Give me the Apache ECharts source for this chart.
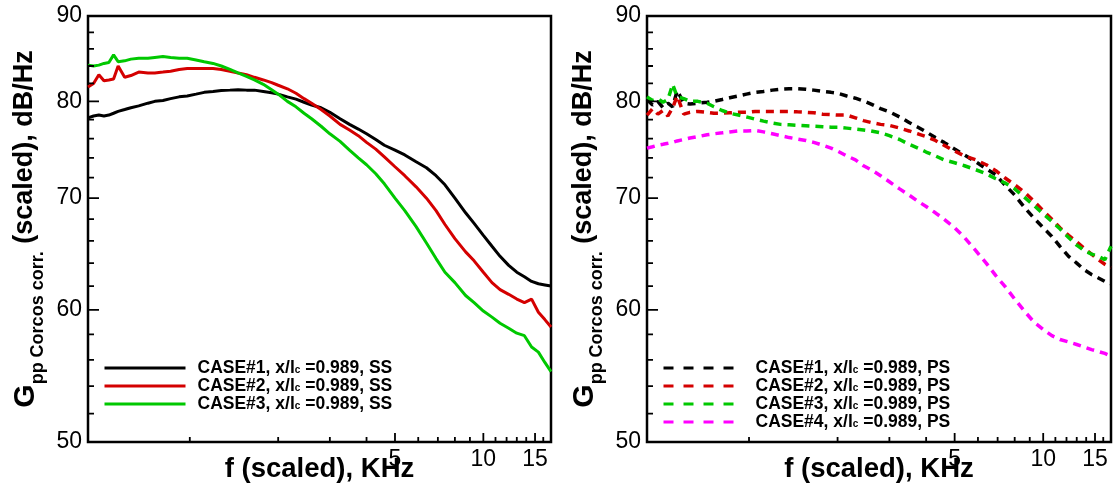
<!DOCTYPE html>
<html>
<head>
<meta charset="utf-8">
<script src="https://cdn.jsdelivr.net/npm/echarts@6/dist/echarts.min.js"></script>
<style>
  html, body { margin: 0; padding: 0; background: #fff; }
  #chart { width: 1113px; height: 497px; }
</style>
</head>
<body>
<div id="chart"></div>
<script>
// frequency grid (KHz, scaled) shared by all curves
const freq = [
  0.45, 0.47, 0.49, 0.51, 0.53, 0.55, 0.57, 0.6, 0.63, 0.67,
  0.72, 0.76, 0.81, 0.86, 0.92, 0.98, 1.05, 1.12, 1.2, 1.28,
  1.37, 1.46, 1.56, 1.66, 1.78, 1.9, 2.0, 2.15, 2.3, 2.45,
  2.6, 2.8, 3.0, 3.25, 3.5, 3.75, 4.0, 4.3, 4.6, 5.0,
  5.4, 5.9, 6.4, 6.9, 7.4, 8.0, 8.7, 9.3, 10, 10.7,
  11.4, 12.2, 13, 13.8, 14.6, 15.4, 16.2, 17,
];

// suction side (left panel)
const ssCase1 = [
  78.2, 78.4, 78.5, 78.4, 78.5, 78.7, 78.9, 79.1, 79.3, 79.5,
  79.8, 80.0, 80.1, 80.3, 80.5, 80.6, 80.8, 81.0, 81.1, 81.2,
  81.25, 81.3, 81.25, 81.25, 81.1, 80.95, 80.8, 80.5, 80.25, 79.9,
  79.6, 79.3, 78.8, 78.1, 77.5, 77.0, 76.5, 75.9, 75.3, 74.8,
  74.3, 73.6, 73.0, 72.2, 71.3, 70.0, 68.6, 67.6, 66.5, 65.5,
  64.6, 63.8, 63.2, 62.8, 62.4, 62.2, 62.1, 62.0,
];
const ssCase2 = [
  81.6, 82.0, 83.0, 82.3, 82.4, 82.5, 84.0, 82.7, 82.9, 83.3,
  83.2, 83.2, 83.3, 83.4, 83.6, 83.7, 83.7, 83.7, 83.7, 83.6,
  83.4, 83.2, 83.0, 82.7, 82.4, 82.1, 81.8, 81.4, 80.9, 80.3,
  79.8, 79.1, 78.4, 77.5, 76.9, 76.3, 75.6, 74.9, 74.1, 73.1,
  72.2, 71.1, 70.0, 68.8, 67.5, 66.2, 65.0, 64.2, 63.2, 62.3,
  61.7, 61.3, 60.9, 60.6, 60.9, 59.8, 59.2, 58.6,
];
const ssCase3 = [
  84.1, 84.0, 84.1, 84.3, 84.4, 85.3, 84.5, 84.6, 84.8, 84.9,
  84.9, 85.0, 85.1, 85.0, 84.9, 84.9, 84.7, 84.5, 84.3, 84.0,
  83.6, 83.2, 82.8, 82.4, 81.9, 81.3, 80.8, 80.0, 79.4, 78.7,
  78.1, 77.3, 76.5, 75.7, 74.8, 74.0, 73.3, 72.4, 71.4, 70.0,
  68.8, 67.3, 65.8, 64.4, 63.2, 62.3, 61.2, 60.6, 59.9, 59.4,
  58.9, 58.5, 58.1, 57.9, 57.0, 56.6, 55.8, 55.1,
];

// pressure side (right panel)
const psCase1 = [
  80.2, 79.6, 80.0, 79.3, 79.8, 79.4, 81.2, 79.8, 79.7, 79.8,
  79.9, 80.0, 80.2, 80.4, 80.6, 80.8, 81.0, 81.1, 81.25, 81.35,
  81.4, 81.4, 81.35, 81.25, 81.1, 81.0, 80.9, 80.6, 80.35, 80.05,
  79.7, 79.2, 78.85, 78.3, 77.7, 77.2, 76.7, 76.1, 75.6, 74.9,
  74.3, 73.6, 72.9, 72.3, 71.3, 70.3, 69.0, 68.1, 67.2, 66.4,
  65.5, 64.6, 64.0, 63.4, 63.0, 62.7, 62.4, 62.2,
];
const psCase2 = [
  78.5, 79.2, 78.6, 79.0, 78.4, 79.3, 80.6, 78.6, 78.8, 78.9,
  78.8, 78.7, 78.7, 78.75, 78.8, 78.8, 78.9, 78.9, 78.9, 78.9,
  78.9, 78.85, 78.8, 78.75, 78.6, 78.55, 78.5, 78.5, 78.2, 77.9,
  77.7, 77.5, 77.4, 77.1, 76.8, 76.5, 76.2, 75.8, 75.3, 74.7,
  74.2, 73.8, 73.3, 72.7, 72.0, 71.3, 70.5, 69.7, 68.8, 68.0,
  67.2, 66.5, 65.9, 65.3, 64.8, 64.3, 63.9, 63.6,
];
const psCase3 = [
  80.5, 80.1, 80.3, 79.9, 80.2, 81.9, 80.5, 80.3, 80.0, 80.0,
  79.8, 79.4, 79.0, 78.7, 78.5, 78.3, 78.05, 77.85, 77.65, 77.5,
  77.45, 77.4, 77.35, 77.3, 77.25, 77.2, 77.2, 77.1, 77.0, 76.9,
  76.8, 76.6, 76.3, 75.9, 75.4, 75.0, 74.6, 74.2, 73.8, 73.5,
  73.2, 72.8, 72.4, 71.9, 71.5, 70.9, 70.0, 69.3, 68.5, 67.8,
  67.1, 66.3, 65.6, 65.1, 64.8, 64.6, 64.3, 65.5,
];
const psCase4 = [
  75.0, 75.15, 75.3, 75.4, 75.5, 75.6, 75.75, 75.9, 76.05, 76.2,
  76.4, 76.5, 76.6, 76.7, 76.8, 76.8, 76.85, 76.7, 76.5, 76.3,
  76.1, 75.95, 75.8, 75.6, 75.3, 75.0, 74.7, 74.2, 73.8, 73.2,
  72.8, 72.2, 71.6, 70.9, 70.3, 69.7, 69.2, 68.6, 68.0, 67.2,
  66.3, 65.1, 64.0, 62.9, 62.0, 60.9, 59.8, 59.0, 58.4, 57.9,
  57.6, 57.4, 57.2, 57.0, 56.8, 56.65, 56.5, 56.3,
];

// axis ticks
const yMajorTicks = [50, 60, 70, 80, 90];
const yMinorTicks = [52, 54, 56, 58, 62, 64, 66, 68, 72, 74, 76, 78, 82, 84, 86, 88];
const xMajorTicks = [5, 10, 15];
const xMinorTicks = [1, 2, 3, 4, 6, 7, 8, 9, 11, 12, 13, 14, 16];

const X_MIN = 0.45;
const X_MAX = 17;
const Y_MIN = 50;
const Y_MAX = 90;
const PLOT_W = 463;
const PLOT_H = 426;
const FONT = '"Liberation Sans", Arial, Helvetica, sans-serif';
const COLORS = ["#000000", "#d40000", "#00c800", "#ff00ff"];

const toPoints = (ys) => freq.map((f, i) => [f, ys[i]]);

const makeGrid = (left, width) => ({
  left,
  top: 16,
  width,
  height: PLOT_H,
  show: true,
  borderColor: "#000",
  borderWidth: 2.5,
  backgroundColor: "transparent",
  outerBoundsMode: "none",
  containLabel: false,
});

const hidden = {
  axisLine: { show: false, onZero: false },
  axisTick: { show: false },
  axisLabel: { show: false },
  splitLine: { show: false },
};

// data axes (log)
const makeXAxis = (gridIndex) => ({
  type: "log",
  logBase: 10,
  gridIndex,
  min: X_MIN,
  max: X_MAX,
  name: "f (scaled), KHz",
  nameLocation: "middle",
  nameGap: 13,
  nameTextStyle: { fontFamily: FONT, fontSize: 27.5, fontWeight: "bold", color: "#000" },
  ...hidden,
});

const makeYAxis = (gridIndex) => ({
  type: "log",
  logBase: 10,
  gridIndex,
  min: Y_MIN,
  max: Y_MAX,
  name: "{g|G}{s|pp Corcos corr.}{m| (scaled), dB/Hz}",
  nameLocation: "middle",
  nameRotate: 90,
  nameGap: 47,
  nameTextStyle: {
    color: "#000",
    rich: {
      g: { fontFamily: FONT, fontSize: 30, fontWeight: "bold", color: "#000", lineHeight: 30, verticalAlign: "top" },
      s: { fontFamily: FONT, fontSize: 18, fontWeight: "bold", color: "#000", lineHeight: 20, padding: [18, 0, 0, 0], verticalAlign: "top" },
      m: { fontFamily: FONT, fontSize: 27, fontWeight: "bold", color: "#000", lineHeight: 30, verticalAlign: "top" },
    },
  },
  ...hidden,
});

// overlay value axes in log10 space carrying the tick labels
const labelAxis = (gridIndex, position, min, max, ticks) => ({
  type: "value",
  gridIndex,
  position,
  offset: 0,
  min: Math.log10(min),
  max: Math.log10(max),
  axisLine: { show: false, onZero: false },
  splitLine: { show: false },
  axisTick: { show: false },
  axisLabel: {
    show: true,
    customValues: ticks.map(Math.log10),
    formatter: (v) => String(Math.round(Math.pow(10, v))),
    margin: 6,
    color: "#000",
    fontFamily: FONT,
    fontSize: 23,
    hideOverlap: false,
  },
});

// inward tick marks as short segments on the log axes (length in pixels)
const xEnd = (px) => X_MIN * Math.pow(X_MAX / X_MIN, px / PLOT_W);
const yEnd = (px) => Y_MIN * Math.pow(Y_MAX / Y_MIN, px / PLOT_H);
const GAP = ["-", "-"];
const yTickSegments = yMajorTicks
  .map((v) => [v, 11])
  .concat(yMinorTicks.map((v) => [v, 6]))
  .flatMap(([v, len]) => [[X_MIN, v], [xEnd(len), v], GAP]);
const xTickSegments = xMajorTicks
  .map((v) => [v, 9])
  .concat(xMinorTicks.map((v) => [v, 5]))
  .flatMap(([v, len]) => [[v, Y_MIN], [v, yEnd(len)], GAP]);

const tickSeries = (axis, data) => ({
  type: "line",
  xAxisIndex: axis,
  yAxisIndex: axis,
  data,
  symbol: "none",
  showSymbol: false,
  connectNulls: false,
  clip: false,
  silent: true,
  lineStyle: { color: "#000", width: 1.8 },
  itemStyle: { color: "#000" },
  z: 5,
});

const makeLine = (name, values, color, axis, dashed) => ({
  name,
  type: "line",
  xAxisIndex: axis,
  yAxisIndex: axis,
  data: toPoints(values),
  symbol: "none",
  showSymbol: false,
  itemStyle: { color },
  lineStyle: { color, width: dashed ? 3.5 : 3, type: dashed ? [8, 6] : "solid" },
  z: 3,
});

const legendFormatter = (name) => {
  const [label, side] = name.split("|");
  return `{h|${label}, x/l}{c|c}{t| =0.989, ${side}}`;
};

const legendRich = (pad) => ({
  h: { fontFamily: FONT, fontSize: 17.5, fontWeight: "bold", color: "#000", lineHeight: 14, padding: [0, 0, 0, pad] },
  c: { fontFamily: FONT, fontSize: 10, fontWeight: "bold", color: "#000", lineHeight: 4, verticalAlign: "bottom" },
  t: { fontFamily: FONT, fontSize: 17.5, fontWeight: "bold", color: "#000", lineHeight: 14 },
});

const ssNames = ["CASE#1|SS", "CASE#2|SS", "CASE#3|SS"];
const psNames = ["CASE#1|PS", "CASE#2|PS", "CASE#3|PS", "CASE#4|PS"];

const chart = echarts.init(document.getElementById("chart"), null, { renderer: "canvas" });
chart.setOption({
  animation: false,
  backgroundColor: "#fff",
  grid: [makeGrid(88, PLOT_W), makeGrid(647, 464)],
  xAxis: [
    makeXAxis(0),
    makeXAxis(1),
    labelAxis(0, "bottom", X_MIN, X_MAX, xMajorTicks),
    labelAxis(1, "bottom", X_MIN, X_MAX, xMajorTicks),
  ],
  yAxis: [
    makeYAxis(0),
    makeYAxis(1),
    labelAxis(0, "left", Y_MIN, Y_MAX, yMajorTicks),
    labelAxis(1, "left", Y_MIN, Y_MAX, yMajorTicks),
  ],
  legend: [
    {
      data: ssNames,
      orient: "vertical",
      left: 103,
      top: 359,
      itemWidth: 81,
      itemHeight: 14,
      itemGap: 0,
      padding: 0,
      formatter: legendFormatter,
      textStyle: { rich: legendRich(7) },
      itemStyle: { opacity: 0 },
      lineStyle: { width: 3 },
      selectedMode: false,
    },
    {
      data: psNames,
      orient: "vertical",
      left: 662,
      top: 359,
      itemWidth: 71,
      itemHeight: 14,
      itemGap: 0,
      padding: 0,
      formatter: legendFormatter,
      textStyle: { rich: legendRich(16) },
      itemStyle: { opacity: 0 },
      lineStyle: { width: 3, type: [10, 10] },
      selectedMode: false,
    },
  ],
  series: [
    makeLine(ssNames[0], ssCase1, COLORS[0], 0, false),
    makeLine(ssNames[1], ssCase2, COLORS[1], 0, false),
    makeLine(ssNames[2], ssCase3, COLORS[2], 0, false),
    makeLine(psNames[0], psCase1, COLORS[0], 1, true),
    makeLine(psNames[1], psCase2, COLORS[1], 1, true),
    makeLine(psNames[2], psCase3, COLORS[2], 1, true),
    makeLine(psNames[3], psCase4, COLORS[3], 1, true),
    tickSeries(0, yTickSegments),
    tickSeries(0, xTickSegments),
    tickSeries(1, yTickSegments),
    tickSeries(1, xTickSegments),
  ],
});
</script>
</body>
</html>
